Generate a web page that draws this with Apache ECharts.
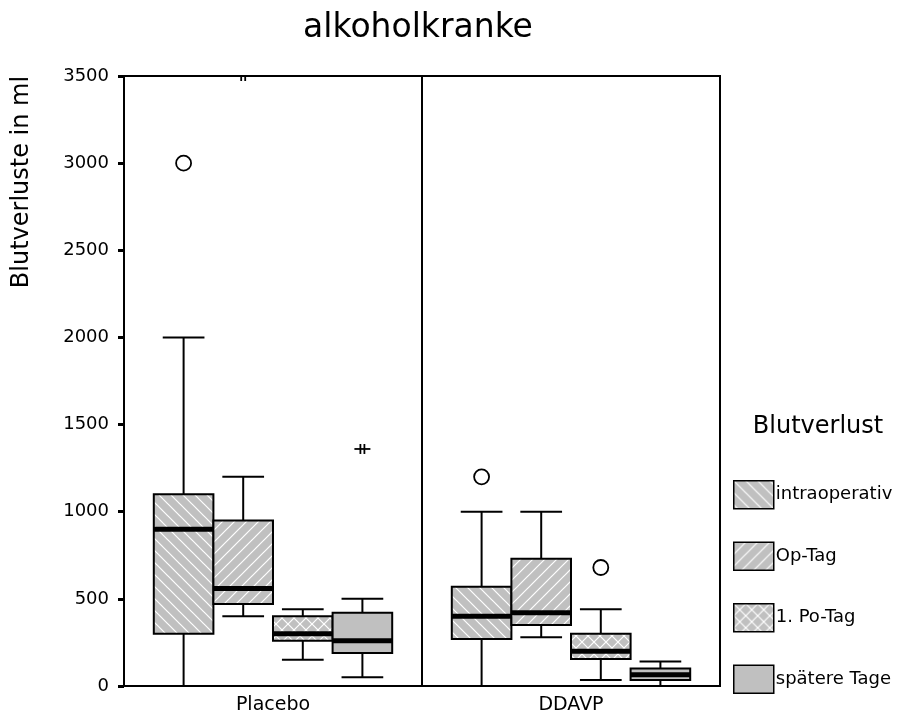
<!DOCTYPE html>
<html>
<head>
<meta charset="utf-8">
<title>alkoholkranke</title>
<script src="https://cdn.jsdelivr.net/npm/echarts@6/dist/echarts.min.js"></script>
<style>
  html, body { margin: 0; padding: 0; background: #fff; }
  #main { width: 907px; height: 720px; }
</style>
</head>
<body>
<div id="main"></div>
<script>
  // Daten
  var categories = ['Placebo', 'DDAVP'];
  var groups = ['intraoperativ', 'Op-Tag', '1. Po-Tag', 'spätere Tage'];
  var yTicks = [0, 500, 1000, 1500, 2000, 2500, 3000, 3500];

  // [min, Q1, Median, Q3, max] je Kategorie
  var intraoperativ = [[0, 300, 900, 1100, 2000], [0, 270, 400, 570, 1000]];
  var opTag = [[400, 470, 560, 950, 1200], [280, 350, 420, 730, 1000]];
  var poTag = [[150, 260, 300, 400, 440], [35, 155, 200, 300, 440]];
  var spaetereTage = [[50, 190, 260, 420, 500], [0, 35, 65, 100, 140]];
  var boxStats = [intraoperativ, opTag, poTag, spaetereTage];

  // Ausreisser: [Kategorie, Gruppe, Wert, Art (0 = Kreis, 1 = Stern)]
  var outliers = [
    [0, 0, 3000, 0],
    [0, 1, 3500, 1],
    [0, 3, 1360, 1],
    [1, 0, 1200, 0],
    [1, 2, 680, 0]
  ];

  var FONT = 'DejaVu Sans';

  // Schraffuren als Kachelmuster
  function makePattern(kind) {
    var c = document.createElement('canvas');
    c.width = 12; c.height = 12;
    var ctx = c.getContext('2d');
    ctx.fillStyle = '#c0c0c0';
    ctx.fillRect(0, 0, 12, 12);
    ctx.strokeStyle = '#ffffff';
    ctx.lineWidth = 1.2;
    function seg(x1, y1, x2, y2) {
      ctx.beginPath(); ctx.moveTo(x1, y1); ctx.lineTo(x2, y2); ctx.stroke();
    }
    if (kind === 'back' || kind === 'cross') {
      seg(-1, -1, 13, 13); seg(-1, 11, 1, 13); seg(11, -1, 13, 1);
    }
    if (kind === 'fwd' || kind === 'cross') {
      seg(-1, 13, 13, -1); seg(-1, 1, 1, -1); seg(11, 13, 13, 11);
    }
    return { image: c, repeat: 'repeat' };
  }
  var patterns = [makePattern('back'), makePattern('fwd'), makePattern('cross'), makePattern('none')];

  function renderBox(params, api) {
    var k = params.seriesIndex;
    var cat = api.value(0);
    var band = api.size([1, 0])[0];
    var w = band * 0.2;
    var cx = api.coord([cat, 0])[0] + (k - 1.5) * w;
    var y = [1, 2, 3, 4, 5].map(function (d) {
      return api.coord([cat, api.value(d)])[1];
    });
    var cap = w * 0.7;
    var ln = { stroke: '#000', lineWidth: 2 };
    return {
      type: 'group',
      children: [
        { type: 'line', shape: { x1: cx, y1: y[0], x2: cx, y2: y[1] }, style: ln },
        { type: 'line', shape: { x1: cx, y1: y[3], x2: cx, y2: y[4] }, style: ln },
        { type: 'line', shape: { x1: cx - cap / 2, y1: y[0], x2: cx + cap / 2, y2: y[0] }, style: ln },
        { type: 'line', shape: { x1: cx - cap / 2, y1: y[4], x2: cx + cap / 2, y2: y[4] }, style: ln },
        {
          type: 'rect',
          shape: { x: cx - w / 2, y: y[3], width: w, height: y[1] - y[3] },
          style: { fill: patterns[k], stroke: '#000', lineWidth: 2 }
        },
        { type: 'line', shape: { x1: cx - w / 2, y1: y[2], x2: cx + w / 2, y2: y[2] }, style: { stroke: '#000', lineWidth: 5 } }
      ]
    };
  }

  function renderOutlier(params, api) {
    var cat = api.value(0);
    var g = api.value(1);
    var band = api.size([1, 0])[0];
    var w = band * 0.2;
    var p = api.coord([cat, api.value(2)]);
    var cx = p[0] + (g - 1.5) * w;
    var cy = p[1];
    var st = { stroke: '#000', lineWidth: 1.8, fill: null };
    if (api.value(3) === 0) {
      return { type: 'circle', shape: { cx: cx, cy: cy, r: 7.5 }, style: st };
    }
    return {
      type: 'group',
      children: [
        { type: 'line', shape: { x1: cx - 8, y1: cy, x2: cx + 8, y2: cy }, style: st },
        { type: 'line', shape: { x1: cx - 2, y1: cy - 5, x2: cx - 2, y2: cy + 5 }, style: st },
        { type: 'line', shape: { x1: cx + 2, y1: cy - 5, x2: cx + 2, y2: cy + 5 }, style: st }
      ]
    };
  }

  var series = groups.map(function (name, k) {
    return {
      name: name,
      type: 'custom',
      renderItem: renderBox,
      clip: true,
      itemStyle: { color: patterns[k], borderColor: '#000', borderWidth: 1.5 },
      encode: { x: 0, y: [1, 2, 3, 4, 5] },
      data: categories.map(function (c, i) {
        return [i].concat(boxStats[k][i]);
      })
    };
  });
  series.push({
    name: 'Ausreisser',
    type: 'custom',
    renderItem: renderOutlier,
    clip: true,
    encode: { x: 0, y: 2 },
    data: outliers
  });

  var myChart = echarts.init(document.getElementById('main'));
  myChart.setOption({
    animation: false,
    backgroundColor: '#fff',
    title: [
      {
        text: 'alkoholkranke',
        left: 418, top: 12, padding: 0, textAlign: 'center',
        textStyle: { fontFamily: FONT, fontSize: 33, fontWeight: 'normal', color: '#000' }
      },
      {
        text: 'Blutverlust',
        left: 818, top: 415, padding: 0, textAlign: 'center',
        textStyle: { fontFamily: FONT, fontSize: 24, fontWeight: 'normal', color: '#000' }
      }
    ],
    graphic: [{
      type: 'text',
      x: 22, y: 182,
      rotation: Math.PI / 2,
      style: {
        text: 'Blutverluste in ml',
        font: '24px "DejaVu Sans"',
        fill: '#000',
        align: 'center',
        verticalAlign: 'middle'
      }
    }],
    legend: {
      data: groups,
      orient: 'vertical',
      left: 733, top: 480,
      padding: 0,
      icon: 'rect',
      itemWidth: 40, itemHeight: 28, itemGap: 32,
      selectedMode: false,
      itemStyle: { borderColor: '#000', borderWidth: 1.5 },
      textStyle: { fontFamily: FONT, fontSize: 18, color: '#000', padding: [0, 0, 0, -3] }
    },
    grid: {
      left: 124, right: 187, top: 76, bottom: 34,
      show: true, borderColor: '#000', borderWidth: 2
    },
    xAxis: {
      type: 'category',
      data: categories,
      axisLine: { lineStyle: { color: '#000', width: 2 } },
      axisTick: { alignWithLabel: true, length: 4, lineStyle: { color: '#000', width: 6 } },
      axisLabel: { color: '#000', fontFamily: FONT, fontSize: 19, margin: 10 },
      splitLine: { show: true, lineStyle: { color: '#000', width: 2 } }
    },
    yAxis: {
      type: 'value',
      min: yTicks[0], max: yTicks[yTicks.length - 1], interval: 500,
      axisLine: { show: true, lineStyle: { color: '#000', width: 2 } },
      axisTick: { show: true, length: 6, lineStyle: { color: '#000', width: 3 } },
      axisLabel: {
        color: '#000', fontFamily: FONT, fontSize: 18, margin: 15,
        formatter: function (v) { return String(v); }
      },
      splitLine: { show: false }
    },
    series: series
  });
  window.onresize = myChart.resize;
</script>
</body>
</html>
